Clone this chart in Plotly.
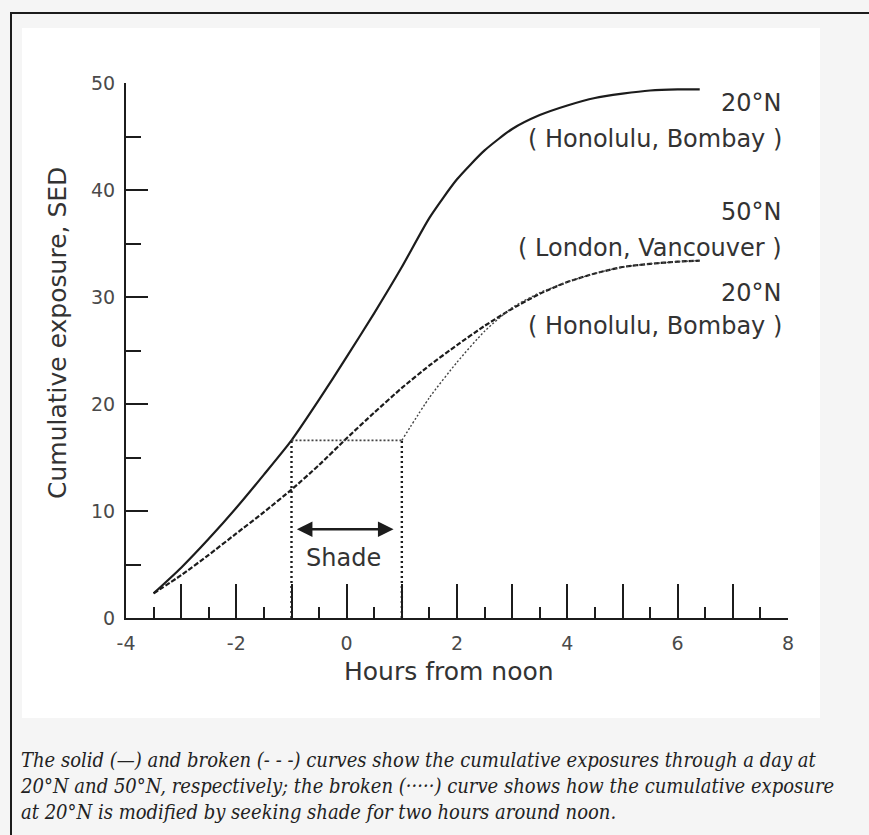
import plotly.graph_objects as go

# Hours from local noon
hours = [-3.5, -3.0, -2.5, -2.0, -1.5, -1.0, -0.5, 0.0, 0.5, 1.0, 1.5, 2.0,
         2.5, 3.0, 3.5, 4.0, 4.5, 5.0, 5.5, 6.0, 6.4]

# Cumulative exposure (SED) at 20°N - solid curve
sed_20n = [2.3, 4.7, 7.4, 10.3, 13.4, 16.6, 20.4, 24.4, 28.5, 32.8, 37.4, 41.0,
           43.7, 45.7, 47.0, 47.9, 48.6, 49.0, 49.3, 49.4, 49.4]

# Cumulative exposure (SED) at 50°N - broken curve
sed_50n = [2.3, 4.0, 5.9, 7.9, 9.9, 12.0, 14.3, 16.8, 19.2, 21.5, 23.6, 25.5,
           27.3, 28.9, 30.3, 31.4, 32.2, 32.8, 33.1, 33.3, 33.4]

# 20°N with two hours of shade around noon - dotted curve
shade_hours = [-1.0, 1.0]
shade_level = [16.6, 16.6]
after_hours = [1.0, 1.5, 2.0, 2.5, 3.0, 3.5, 4.0, 4.5, 5.0, 5.5, 6.0, 6.4]
after_sed = [16.6, 20.6, 23.9, 26.8, 29.0, 30.4, 31.4, 32.2, 32.8, 33.1, 33.3, 33.4]

# Shade arrow span and label
arrow_span = [-0.93, 0.85]
arrow_level = 8.3

x_ticks = [-4, -3, -2, -1, 0, 1, 2, 3, 4, 5, 6, 7, 8]
x_labels = [-4, -2, 0, 2, 4, 6, 8]
x_label_text = ["-4", "-2", "0", "2", "4", "6", "8"]
x_minor = [-3.5, -2.5, -1.5, -0.5, 0.5, 1.5, 2.5, 3.5, 4.5, 5.5, 6.5, 7.5]
y_ticks = [0, 10, 20, 30, 40, 50]
y_minor = [5, 15, 25, 35, 45]

INK = "#1c1c1c"
TEXT = "#333333"
SANS = "DejaVu Sans"

# Plot-area geometry (pixels) used for frame decoration
W, H = 869, 835
L, R, T, B = 126, 81, 83, 217
PW, PH = W - L - R, H - T - B


def px(xp):
    return (xp - L) / PW


def py(yp):
    return (H - B - yp) / PH


fig = go.Figure()

fig.add_trace(go.Scatter(x=hours, y=sed_20n, mode="lines",
                         line=dict(color=INK, width=2.2, shape="spline", smoothing=0.6),
                         hoverinfo="skip"))
fig.add_trace(go.Scatter(x=hours, y=sed_50n, mode="lines",
                         line=dict(color=INK, width=2.2, dash="5px,2px", shape="spline", smoothing=0.6),
                         hoverinfo="skip"))
fig.add_trace(go.Scatter(x=shade_hours, y=shade_level, mode="lines",
                         line=dict(color="#444444", width=1.6, dash="2px,2px"),
                         hoverinfo="skip"))
fig.add_trace(go.Scatter(x=after_hours, y=after_sed, mode="lines",
                         line=dict(color="#444444", width=1.4, dash="2px,2px", shape="spline", smoothing=0.6),
                         hoverinfo="skip"))
# vertical shade boundaries (drawn on the labelled twin x axis, same range)
for hx in shade_hours:
    fig.add_trace(go.Scatter(x=[hx, hx], y=[0, shade_level[0]], mode="lines",
                             xaxis="x2",
                             line=dict(color=INK, width=2.4, dash="2px,3px"),
                             hoverinfo="skip"))

annotations = [
    dict(x=arrow_span[1], y=arrow_level, ax=arrow_span[0], ay=arrow_level,
         xref="x", yref="y", axref="x", ayref="y", text="", showarrow=True,
         arrowhead=2, arrowside="end+start", arrowsize=1.3, arrowwidth=2.4,
         arrowcolor=INK, standoff=0, startstandoff=0),
    dict(x=-0.05, y=5.6, xref="x", yref="y", text="Shade", showarrow=False,
         font=dict(family=SANS, size=24, color=TEXT)),
]

labels = [
    ("20°N", 48.1),
    ("( Honolulu, Bombay )", 44.8),
    ("50°N", 37.9),
    ("( London, Vancouver )", 34.6),
    ("20°N", 30.4),
    ("( Honolulu, Bombay )", 27.3),
]
for txt, yv in labels:
    annotations.append(dict(x=7.93, y=yv, xref="x", yref="y", text=txt,
                            showarrow=False, xanchor="right", yanchor="middle",
                            font=dict(family=SANS, size=24, color=TEXT)))

annotations.append(dict(x=px(449), y=py(671), xref="paper", yref="paper",
                        text="Hours from noon", showarrow=False,
                        xanchor="center", yanchor="middle",
                        font=dict(family=SANS, size=25, color=TEXT)))
annotations.append(dict(x=px(57), y=py(333), xref="paper", yref="paper",
                        text="Cumulative exposure, SED", showarrow=False,
                        textangle=-90, xanchor="center", yanchor="middle",
                        font=dict(family=SANS, size=25, color=TEXT)))

caption = ("The solid (—) and broken (- - -) curves show the cumulative exposures through a day at<br>"
           "20°N and 50°N, respectively; the broken (·····) curve shows how the cumulative exposure<br>"
           "at 20°N is modified by seeking shade for two hours around noon.")
annotations.append(dict(x=px(18), y=py(786), xref="paper", yref="paper",
                        text=caption, showarrow=False, xanchor="left",
                        yanchor="middle", align="left",
                        font=dict(family="DejaVu Serif Condensed, DejaVu Serif", size=20,
                                  color="#222222", style="italic")))

shapes = [
    # white panel behind the chart
    dict(type="rect", xref="paper", yref="paper", x0=px(22), x1=px(820),
         y0=py(718), y1=py(28), fillcolor="white", line=dict(width=0), layer="below"),
    # frame lines
    dict(type="line", xref="paper", yref="paper", x0=px(10), x1=px(869),
         y0=py(13), y1=py(13), line=dict(color=INK, width=2)),
    dict(type="line", xref="paper", yref="paper", x0=px(11), x1=px(11),
         y0=py(13), y1=py(835), line=dict(color=INK, width=2)),
]

fig.update_layout(
    width=W, height=H,
    margin=dict(l=L, r=R, t=T, b=B),
    paper_bgcolor="#f5f5f5",
    plot_bgcolor="rgba(0,0,0,0)",
    showlegend=False,
    annotations=annotations,
    shapes=shapes,
    xaxis=dict(range=[-4, 8], showgrid=False, zeroline=False, showline=True,
               linecolor=INK, linewidth=2, ticks="inside", ticklen=34, tickwidth=2,
               tickcolor=INK, tickvals=x_ticks, showticklabels=False,
               minor=dict(tickvals=x_minor, ticks="inside", ticklen=11,
                          tickwidth=2, tickcolor=INK)),
    # twin axis carrying the even-hour labels
    xaxis2=dict(range=[-4, 8], overlaying="x", anchor="y", side="bottom",
                showgrid=False, zeroline=False, showline=False, ticks="",
                tickvals=x_labels, ticktext=x_label_text, ticklabelstandoff=12,
                tickfont=dict(family=SANS, size=19, color="#4a4a4a")),
    yaxis=dict(range=[0, 50], showgrid=False, zeroline=False, showline=True,
               linecolor=INK, linewidth=2, ticks="inside", ticklen=22, tickwidth=2,
               tickcolor=INK, tickvals=y_ticks, ticklabelstandoff=5,
               tickfont=dict(family=SANS, size=19, color="#4a4a4a"),
               minor=dict(tickvals=y_minor, ticks="inside", ticklen=15,
                          tickwidth=2, tickcolor=INK)),
)

fig.write_html("out.html")
